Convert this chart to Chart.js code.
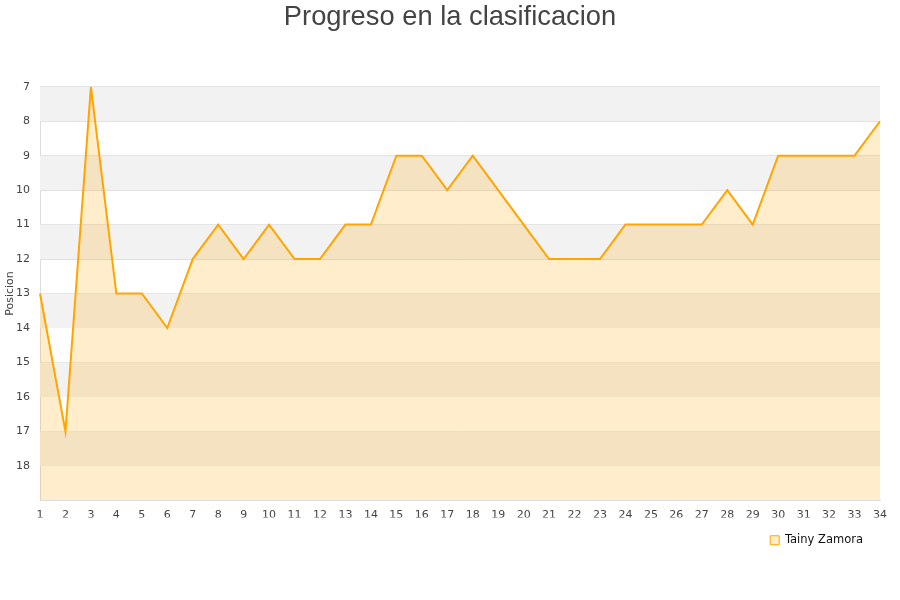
<!DOCTYPE html>
<html>
<head>
<meta charset="utf-8">
<script src="https://cdn.jsdelivr.net/npm/chart.js@4/dist/chart.umd.min.js"></script>
<style>
  body { margin: 0; background: #fff; }
  #wrap { width: 900px; height: 600px; }
</style>
</head>
<body>
<div id="wrap"><canvas id="myChart"></canvas></div>
<script>
// jornadas 1..34 y posicion de cada jornada
const jornadas = ['1','2','3','4','5','6','7','8','9','10','11','12','13','14','15','16','17',
  '18','19','20','21','22','23','24','25','26','27','28','29','30','31','32','33','34'];
const posicion = [13, 17, 7, 13, 13, 14, 12, 11, 12, 11, 12, 12, 11, 11, 9, 9, 10,
  9, 10, 11, 12, 12, 12, 11, 11, 11, 11, 10, 11, 9, 9, 9, 9, 8];
const equipo = 'Tainy Zamora';
const posMin = 7;
const posMax = 19;

// bandas grises alternas detras del grafico
const bandas = {
  id: 'bandas',
  beforeDatasetsDraw(chart) {
    const ctx = chart.ctx;
    const area = chart.chartArea;
    const y = chart.scales.y;
    ctx.save();
    for (let v = posMin; v < posMax; v += 2) {
      const y1 = y.getPixelForValue(v);
      const y2 = y.getPixelForValue(v + 1);
      ctx.fillStyle = '#f2f2f2';
      ctx.fillRect(area.left, Math.min(y1, y2), area.right - area.left, Math.abs(y2 - y1));
    }
    ctx.restore();
  }
};

const ctx = document.getElementById('myChart').getContext('2d');
const chart = new Chart(ctx, {
  type: 'line',
  data: {
    labels: jornadas,
    datasets: [{
      label: equipo,
      data: posicion,
      borderColor: '#ffa500',
      backgroundColor: 'rgba(255,165,0,0.2)',
      borderWidth: 2,
      pointRadius: 0,
      tension: 0,
      fill: 'start'
    }]
  },
  options: {
    responsive: true,
    maintainAspectRatio: false,
    animation: false,
    layout: { padding: { left: 0, right: 0, top: 0, bottom: 44 } },
    plugins: {
      title: {
        display: true,
        text: 'Progreso en la clasificacion',
        color: '#444',
        font: { family: '"Liberation Sans", Arial, sans-serif', size: 27.3, weight: 'normal' },
        padding: { top: 1, bottom: 53 }
      },
      legend: {
        position: 'bottom',
        align: 'end',
        fullSize: false,
        labels: {
          color: '#111',
          boxWidth: 9,
          boxHeight: 9,
          padding: 17,
          font: { family: '"DejaVu Sans", sans-serif', size: 11.5 },
          generateLabels: c => Chart.defaults.plugins.legend.labels.generateLabels(c)
            .map(l => Object.assign(l, { lineWidth: 1, fillStyle: '#ffedcc' }))
        }
      },
      tooltip: { enabled: false }
    },
    scales: {
      x: {
        offset: false,
        grid: { display: false, drawTicks: false },
        border: { color: '#ddd' },
        afterFit: s => { s.paddingRight = 20; s.height = s.height - 12; },
        ticks: {
          color: '#444',
          padding: 8,
          maxRotation: 0,
          autoSkip: false,
          font: { family: '"DejaVu Sans", sans-serif', size: 11 }
        }
      },
      y: {
        reverse: true,
        min: posMin,
        max: posMax,
        grid: { color: '#ddd', drawTicks: false },
        border: { color: '#ddd' },
        afterFit: s => { s.width = 40; },
        title: {
          display: true,
          text: 'Posicion',
          color: '#444',
          font: { family: '"DejaVu Sans", sans-serif', size: 11 },
          padding: { top: 4, bottom: 0 }
        },
        ticks: {
          stepSize: 1,
          color: '#444',
          padding: 10,
          font: { family: '"DejaVu Sans", sans-serif', size: 11 },
          callback: v => (v === posMax ? '' : v)
        }
      }
    }
  },
  plugins: [bandas]
});
</script>
</body>
</html>
